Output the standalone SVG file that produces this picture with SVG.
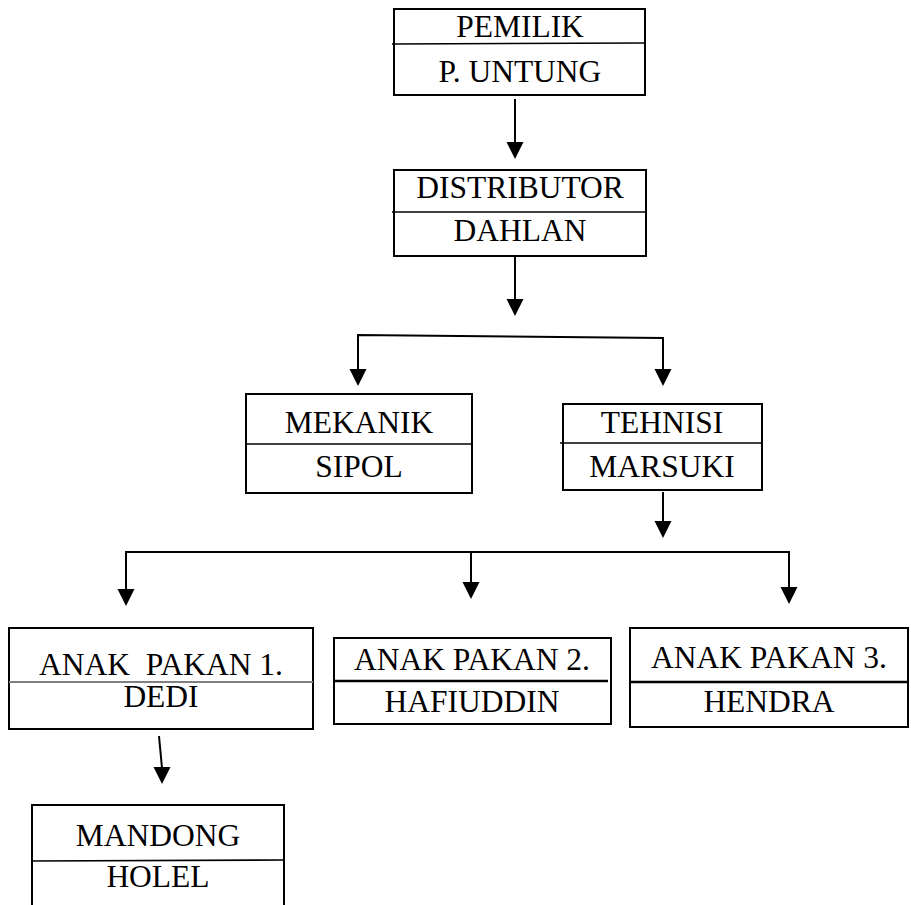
<svg xmlns="http://www.w3.org/2000/svg" width="911" height="905" viewBox="0 0 911 905">
<defs>
<marker id="ah" markerWidth="9" markerHeight="8" refX="8.5" refY="4" orient="auto" markerUnits="userSpaceOnUse" viewBox="0 0 9 8">
<path d="M0,0 L9,4 L0,8 Z" fill="#000"/>
</marker>
<style>
.box{fill:#fff;stroke:#000;stroke-width:2}
.div{stroke:#000;stroke-width:1.6;fill:none}
.t{font-family:"Liberation Serif","Times New Roman",serif;font-size:31.5px;fill:#000;text-anchor:middle;white-space:pre}
.c{stroke:#000;stroke-width:2;fill:none}
.a{fill:#000}
</style>
</defs>
<rect width="911" height="905" fill="#fff"/>

<g id="pemilik">
<rect class="box" x="394" y="9" width="251" height="86"/>
<line class="div" x1="392" y1="44" x2="645" y2="43"/>
<text class="t" x="520" y="37">PEMILIK</text>
<text class="t" x="520" y="82">P. UNTUNG</text>
</g>

<g id="distributor">
<rect class="box" x="394" y="170" width="252" height="86"/>
<line class="div" x1="392" y1="212" x2="646" y2="212"/>
<text class="t" x="520" y="198">DISTRIBUTOR</text>
<text class="t" x="520" y="241">DAHLAN</text>
</g>

<g id="mekanik">
<rect class="box" x="246" y="394" width="226" height="99"/>
<line class="div" x1="246" y1="444" x2="472" y2="444"/>
<text class="t" x="359" y="433">MEKANIK</text>
<text class="t" x="359" y="477">SIPOL</text>
</g>

<g id="tehnisi">
<rect class="box" x="563" y="404" width="199" height="86"/>
<line class="div" x1="560" y1="443" x2="762" y2="443"/>
<text class="t" x="662" y="433">TEHNISI</text>
<text class="t" x="662" y="477">MARSUKI</text>
</g>

<g id="anak-pakan-1">
<rect class="box" x="9" y="628" width="304" height="101"/>
<line x1="9" y1="682" x2="313" y2="682" stroke="#808080" stroke-width="2"/>
<text class="t" x="161" y="675">ANAK  PAKAN 1.</text>
<text class="t" x="161" y="707">DEDI</text>
</g>

<g id="anak-pakan-2">
<rect class="box" x="334" y="638" width="277" height="86"/>
<line x1="334" y1="681" x2="608" y2="681" stroke="#000" stroke-width="2.5"/>
<text class="t" x="472" y="670">ANAK PAKAN 2.</text>
<text class="t" x="472" y="712">HAFIUDDIN</text>
</g>

<g id="anak-pakan-3">
<rect class="box" x="630" y="628" width="278" height="99"/>
<line x1="630" y1="682" x2="908" y2="682" stroke="#000" stroke-width="2.5"/>
<text class="t" x="769" y="668">ANAK PAKAN 3.</text>
<text class="t" x="769" y="712">HENDRA</text>
</g>

<g id="mandong">
<path class="box" d="M32,906 L32,805 L284,805 L284,906"/>
<line class="div" x1="32" y1="861" x2="284" y2="860"/>
<text class="t" x="158" y="846">MANDONG</text>
<text class="t" x="158" y="887">HOLEL</text>
</g>

<g id="connectors">
<line class="c" x1="515" y1="99" x2="515" y2="143"/>
<path class="a" d="M506.5,142 L523.5,142 L515,159 Z"/>
<line class="c" x1="515" y1="256" x2="515" y2="300"/>
<path class="a" d="M506.5,299 L523.5,299 L515,316 Z"/>
<path class="c" d="M358,370 L358,335 L663,338 L663,370"/>
<path class="a" d="M349.5,369 L366.5,369 L358,386 Z"/>
<path class="a" d="M654.5,369 L671.5,369 L663,386 Z"/>
<line class="c" x1="663" y1="492" x2="663" y2="522"/>
<path class="a" d="M654.5,521 L671.5,521 L663,538 Z"/>
<path class="c" d="M126,590 L126,552 L789,552 L789,588"/>
<line class="c" x1="471" y1="552" x2="471" y2="583"/>
<path class="a" d="M117.5,589 L134.5,589 L126,606 Z"/>
<path class="a" d="M462.5,582 L479.5,582 L471,599 Z"/>
<path class="a" d="M780.5,587 L797.5,587 L789,604 Z"/>
<line class="c" x1="159" y1="736" x2="162" y2="768"/>
<path class="a" d="M153.5,767 L170.5,767 L162,784 Z"/>
</g>
</svg>
